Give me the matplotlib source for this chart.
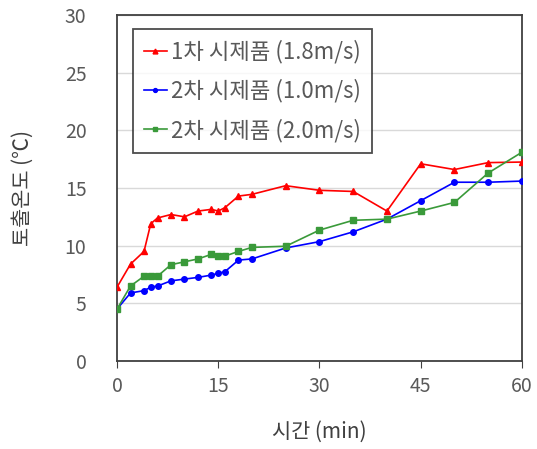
import matplotlib
matplotlib.use("Agg")
import matplotlib.pyplot as plt

plt.rcParams["font.family"] = ["Noto Sans CJK KR", "DejaVu Sans"]

# time (min)
t_1st = [0, 2, 4, 5, 6, 8, 10, 12, 14, 15, 16, 18, 20, 25, 30, 35, 40, 45, 50, 55, 60]
v_1st = [6.4, 8.4, 9.5, 11.9, 12.4, 12.7, 12.5, 13.0, 13.15, 13.0, 13.3, 14.3, 14.45, 15.2,
         14.8, 14.7, 13.0, 17.1, 16.6, 17.2, 17.25]

t_2nd_a = [0, 2, 4, 5, 6, 8, 10, 12, 14, 15, 16, 18, 20, 25, 30, 35, 40, 45, 50, 55, 60]
v_2nd_a = [4.5, 5.9, 6.1, 6.4, 6.5, 6.95, 7.1, 7.25, 7.45, 7.6, 7.75, 8.75, 8.85, 9.8,
           10.35, 11.2, 12.3, 13.9, 15.5, 15.5, 15.6]

t_2nd_b = [0, 2, 4, 5, 6, 8, 10, 12, 14, 15, 16, 18, 20, 25, 30, 35, 40, 45, 50, 55, 60]
v_2nd_b = [4.5, 6.5, 7.35, 7.35, 7.35, 8.35, 8.6, 8.85, 9.25, 9.1, 9.1, 9.5, 9.85, 9.95,
           11.35, 12.2, 12.3, 13.0, 13.75, 16.3, 18.1]

labels = ["1차 시제품 (1.8m/s)", "2차 시제품 (1.0m/s)", "2차 시제품 (2.0m/s)"]

fig = plt.figure(figsize=(5.37, 4.49), dpi=100)
ax = fig.add_axes([0.2179, 0.196, 0.754, 0.7706])

ax.plot(t_1st, v_1st, "-^", color="#ff0000", lw=1.2, ms=5, label=labels[0], zorder=3)
ax.plot(t_2nd_a, v_2nd_a, "-o", color="#0000ff", lw=1.2, ms=4, label=labels[1], zorder=4)
ax.plot(t_2nd_b, v_2nd_b, "-s", color="#3a9a3a", lw=1.2, ms=4, label=labels[2], zorder=5)

ax.set_xlim(0, 60)
ax.set_ylim(0, 30)
ax.set_xticks([0, 15, 30, 45, 60])
ax.set_yticks([0, 5, 10, 15, 20, 25, 30])
ax.grid(True, axis="y", color="#d9d9d9", lw=1.0)
ax.set_axisbelow(True)

for s in ax.spines.values():
    s.set_color("#404040")
    s.set_linewidth(1.3)

ax.tick_params(axis="x", direction="out", length=5, color="#404040",
               labelcolor="#595959", labelsize=14, pad=6)
ax.tick_params(axis="y", length=0, labelcolor="#595959", labelsize=14, pad=22)

ax.set_xlabel("시간 (min)", fontsize=15, color="#404040", labelpad=17)
ax.set_ylabel("토출온도 (℃)", fontsize=15, color="#404040", labelpad=22)

leg = ax.legend(loc="upper left", bbox_to_anchor=(0.04, 0.96), fontsize=16,
                frameon=True, fancybox=False, handlelength=1.0, handletextpad=0.2,
                markerscale=0.7, borderpad=0.5, labelspacing=0.7, borderaxespad=0)
leg.get_frame().set_edgecolor("#202020")
leg.get_frame().set_linewidth(1.3)
for txt in leg.get_texts():
    txt.set_color("#595959")

fig.savefig("out.png", dpi=100)
